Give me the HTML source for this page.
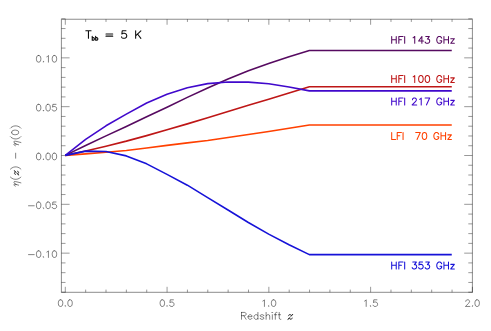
<!DOCTYPE html>
<html><head><meta charset="utf-8"><title>chart</title>
<style>
html,body{margin:0;padding:0;background:#fff;}
body{width:491px;height:331px;overflow:hidden;font-family:"Liberation Sans",sans-serif;}
svg{display:block;}
</style></head><body>
<svg width="491" height="331" viewBox="0 0 491 331">
<rect width="491" height="331" fill="#fff"/>
<rect x="61.4" y="19.25" width="411.0" height="273.05" fill="none" stroke="#000" stroke-opacity="0.45" stroke-width="1"/>
<path d="M65.30,292.3 v-5.5 M65.30,19.25 v5.5 M85.66,292.3 v-2.7 M85.66,19.25 v2.7 M106.01,292.3 v-2.7 M106.01,19.25 v2.7 M126.36,292.3 v-2.7 M126.36,19.25 v2.7 M146.72,292.3 v-2.7 M146.72,19.25 v2.7 M167.07,292.3 v-5.5 M167.07,19.25 v5.5 M187.43,292.3 v-2.7 M187.43,19.25 v2.7 M207.79,292.3 v-2.7 M207.79,19.25 v2.7 M228.14,292.3 v-2.7 M228.14,19.25 v2.7 M248.50,292.3 v-2.7 M248.50,19.25 v2.7 M268.85,292.3 v-5.5 M268.85,19.25 v5.5 M289.20,292.3 v-2.7 M289.20,19.25 v2.7 M309.56,292.3 v-2.7 M309.56,19.25 v2.7 M329.92,292.3 v-2.7 M329.92,19.25 v2.7 M350.27,292.3 v-2.7 M350.27,19.25 v2.7 M370.62,292.3 v-5.5 M370.62,19.25 v5.5 M390.98,292.3 v-2.7 M390.98,19.25 v2.7 M411.34,292.3 v-2.7 M411.34,19.25 v2.7 M431.69,292.3 v-2.7 M431.69,19.25 v2.7 M452.05,292.3 v-2.7 M452.05,19.25 v2.7 M472.40,292.3 v-5.5 M61.4,292.21 h4.1 M472.4,292.21 h-4.1 M61.4,282.44 h4.1 M472.4,282.44 h-4.1 M61.4,272.68 h4.1 M472.4,272.68 h-4.1 M61.4,262.92 h4.1 M472.4,262.92 h-4.1 M61.4,253.15 h8.2 M472.4,253.15 h-8.2 M61.4,243.38 h4.1 M472.4,243.38 h-4.1 M61.4,233.62 h4.1 M472.4,233.62 h-4.1 M61.4,223.86 h4.1 M472.4,223.86 h-4.1 M61.4,214.09 h4.1 M472.4,214.09 h-4.1 M61.4,204.32 h8.2 M472.4,204.32 h-8.2 M61.4,194.56 h4.1 M472.4,194.56 h-4.1 M61.4,184.80 h4.1 M472.4,184.80 h-4.1 M61.4,175.03 h4.1 M472.4,175.03 h-4.1 M61.4,165.26 h4.1 M472.4,165.26 h-4.1 M61.4,155.50 h8.2 M472.4,155.50 h-8.2 M61.4,145.74 h4.1 M472.4,145.74 h-4.1 M61.4,135.97 h4.1 M472.4,135.97 h-4.1 M61.4,126.20 h4.1 M472.4,126.20 h-4.1 M61.4,116.44 h4.1 M472.4,116.44 h-4.1 M61.4,106.67 h8.2 M472.4,106.67 h-8.2 M61.4,96.91 h4.1 M472.4,96.91 h-4.1 M61.4,87.14 h4.1 M472.4,87.14 h-4.1 M61.4,77.38 h4.1 M472.4,77.38 h-4.1 M61.4,67.61 h4.1 M472.4,67.61 h-4.1 M61.4,57.85 h8.2 M472.4,57.85 h-8.2 M61.4,48.08 h4.1 M472.4,48.08 h-4.1 M61.4,38.32 h4.1 M472.4,38.32 h-4.1 M61.4,28.55 h4.1 M472.4,28.55 h-4.1 M61.4,18.79 h4.1 M472.4,18.79 h-4.1" fill="none" stroke="#000" stroke-opacity="0.4" stroke-width="1"/>
<path d="M65.30,155.40 L85.64,153.85 L105.98,152.20 L126.32,150.45 L146.66,148.03 L167.00,145.41 L187.34,142.89 L207.68,140.46 L228.02,137.46 L248.36,134.45 L268.70,131.44 L289.04,128.24 L309.38,125.00 L451.76,125.00" fill="none" stroke="#FF4000" stroke-width="1.6" stroke-linejoin="round" stroke-linecap="butt"/>
<path d="M65.30,155.40 L85.64,151.03 L105.98,146.19 L126.32,141.14 L146.66,135.61 L167.00,129.79 L187.34,123.88 L207.68,117.67 L228.02,111.46 L248.36,105.35 L268.70,99.24 L289.04,93.03 L309.38,86.72 L451.76,86.72" fill="none" stroke="#BE1616" stroke-width="1.6" stroke-linejoin="round" stroke-linecap="butt"/>
<path d="M65.30,155.40 L85.64,145.51 L105.98,135.90 L126.32,126.49 L146.66,116.79 L167.00,107.19 L187.34,97.39 L207.68,87.98 L228.02,79.06 L248.36,70.82 L268.70,63.54 L289.04,56.65 L309.38,50.54 L451.76,50.54" fill="none" stroke="#560A60" stroke-width="1.6" stroke-linejoin="round" stroke-linecap="butt"/>
<path d="M65.30,155.40 L85.64,139.40 L105.98,125.81 L126.32,114.18 L146.66,103.02 L167.00,94.29 L187.34,87.69 L207.68,83.62 L228.02,81.97 L248.36,82.17 L268.70,83.81 L289.04,87.02 L309.38,90.89 L451.76,90.89" fill="none" stroke="#4008CC" stroke-width="1.6" stroke-linejoin="round" stroke-linecap="butt"/>
<path d="M65.30,155.40 L85.64,151.13 L105.98,151.52 L126.32,155.89 L146.66,163.84 L167.00,174.41 L187.34,185.18 L207.68,197.59 L228.02,210.01 L248.36,222.52 L268.70,234.16 L289.04,244.83 L309.38,254.63 L451.76,254.63" fill="none" stroke="#1612D8" stroke-width="1.6" stroke-linejoin="round" stroke-linecap="butt"/>
<path d="M60.24,299.81 L59.30,300.13 L58.66,301.08 L58.35,302.66 L58.35,303.61 L58.66,305.19 L59.30,306.13 L60.24,306.45 L60.88,306.45 L61.82,306.13 L62.46,305.19 L62.77,303.61 L62.77,302.66 L62.46,301.08 L61.82,300.13 L60.88,299.81 L60.24,299.81 M65.30,305.82 L64.98,306.13 L65.30,306.45 L65.62,306.13 L65.30,305.82 M69.72,299.81 L68.78,300.13 L68.14,301.08 L67.83,302.66 L67.83,303.61 L68.14,305.19 L68.78,306.13 L69.72,306.45 L70.36,306.45 L71.30,306.13 L71.94,305.19 L72.25,303.61 L72.25,302.66 L71.94,301.08 L71.30,300.13 L70.36,299.81 L69.72,299.81 M162.02,299.81 L161.07,300.13 L160.44,301.08 L160.12,302.66 L160.12,303.61 L160.44,305.19 L161.07,306.13 L162.02,306.45 L162.65,306.45 L163.60,306.13 L164.23,305.19 L164.55,303.61 L164.55,302.66 L164.23,301.08 L163.60,300.13 L162.65,299.81 L162.02,299.81 M167.07,305.82 L166.76,306.13 L167.07,306.45 L167.39,306.13 L167.07,305.82 M173.39,299.81 L170.23,299.81 L169.92,302.66 L170.23,302.34 L171.18,302.03 L172.13,302.03 L173.08,302.34 L173.71,302.97 L174.03,303.92 L174.03,304.55 L173.71,305.50 L173.08,306.13 L172.13,306.45 L171.18,306.45 L170.23,306.13 L169.92,305.82 L169.60,305.19 M262.85,301.08 L263.48,300.76 L264.43,299.81 L264.43,306.45 M268.85,305.82 L268.53,306.13 L268.85,306.45 L269.17,306.13 L268.85,305.82 M273.27,299.81 L272.33,300.13 L271.69,301.08 L271.38,302.66 L271.38,303.61 L271.69,305.19 L272.33,306.13 L273.27,306.45 L273.91,306.45 L274.85,306.13 L275.49,305.19 L275.80,303.61 L275.80,302.66 L275.49,301.08 L274.85,300.13 L273.91,299.81 L273.27,299.81 M364.62,301.08 L365.25,300.76 L366.20,299.81 L366.20,306.45 M370.63,305.82 L370.31,306.13 L370.63,306.45 L370.94,306.13 L370.63,305.82 M376.95,299.81 L373.79,299.81 L373.47,302.66 L373.79,302.34 L374.73,302.03 L375.68,302.03 L376.63,302.34 L377.26,302.97 L377.58,303.92 L377.58,304.55 L377.26,305.50 L376.63,306.13 L375.68,306.45 L374.73,306.45 L373.79,306.13 L373.47,305.82 L373.15,305.19 M465.76,301.39 L465.76,301.08 L466.08,300.45 L466.40,300.13 L467.03,299.81 L468.29,299.81 L468.92,300.13 L469.24,300.45 L469.56,301.08 L469.56,301.71 L469.24,302.34 L468.61,303.29 L465.45,306.45 L469.87,306.45 M472.40,305.82 L472.08,306.13 L472.40,306.45 L472.72,306.13 L472.40,305.82 M476.82,299.81 L475.88,300.13 L475.24,301.08 L474.93,302.66 L474.93,303.61 L475.24,305.19 L475.88,306.13 L476.82,306.45 L477.46,306.45 L478.40,306.13 L479.04,305.19 L479.35,303.61 L479.35,302.66 L479.04,301.08 L478.40,300.13 L477.46,299.81 L476.82,299.81 M38.32,55.51 L37.37,55.83 L36.74,56.78 L36.43,58.36 L36.43,59.31 L36.74,60.89 L37.37,61.83 L38.32,62.15 L38.95,62.15 L39.90,61.83 L40.53,60.89 L40.85,59.31 L40.85,58.36 L40.53,56.78 L39.90,55.83 L38.95,55.51 L38.32,55.51 M43.38,61.52 L43.06,61.83 L43.38,62.15 L43.69,61.83 L43.38,61.52 M46.85,56.78 L47.49,56.46 L48.43,55.51 L48.43,62.15 M54.12,55.51 L53.17,55.83 L52.54,56.78 L52.23,58.36 L52.23,59.31 L52.54,60.89 L53.17,61.83 L54.12,62.15 L54.75,62.15 L55.70,61.83 L56.33,60.89 L56.65,59.31 L56.65,58.36 L56.33,56.78 L55.70,55.83 L54.75,55.51 L54.12,55.51 M38.32,104.34 L37.37,104.66 L36.74,105.60 L36.43,107.18 L36.43,108.13 L36.74,109.71 L37.37,110.66 L38.32,110.97 L38.95,110.97 L39.90,110.66 L40.53,109.71 L40.85,108.13 L40.85,107.18 L40.53,105.60 L39.90,104.66 L38.95,104.34 L38.32,104.34 M43.38,110.34 L43.06,110.66 L43.38,110.97 L43.69,110.66 L43.38,110.34 M47.80,104.34 L46.85,104.66 L46.22,105.60 L45.91,107.18 L45.91,108.13 L46.22,109.71 L46.85,110.66 L47.80,110.97 L48.43,110.97 L49.38,110.66 L50.01,109.71 L50.33,108.13 L50.33,107.18 L50.01,105.60 L49.38,104.66 L48.43,104.34 L47.80,104.34 M56.02,104.34 L52.86,104.34 L52.54,107.18 L52.86,106.87 L53.81,106.55 L54.75,106.55 L55.70,106.87 L56.33,107.50 L56.65,108.45 L56.65,109.08 L56.33,110.03 L55.70,110.66 L54.75,110.97 L53.81,110.97 L52.86,110.66 L52.54,110.34 L52.23,109.71 M38.32,153.16 L37.37,153.48 L36.74,154.43 L36.43,156.01 L36.43,156.96 L36.74,158.54 L37.37,159.48 L38.32,159.80 L38.95,159.80 L39.90,159.48 L40.53,158.54 L40.85,156.96 L40.85,156.01 L40.53,154.43 L39.90,153.48 L38.95,153.16 L38.32,153.16 M43.38,159.17 L43.06,159.48 L43.38,159.80 L43.69,159.48 L43.38,159.17 M47.80,153.16 L46.85,153.48 L46.22,154.43 L45.91,156.01 L45.91,156.96 L46.22,158.54 L46.85,159.48 L47.80,159.80 L48.43,159.80 L49.38,159.48 L50.01,158.54 L50.33,156.96 L50.33,156.01 L50.01,154.43 L49.38,153.48 L48.43,153.16 L47.80,153.16 M54.12,153.16 L53.17,153.48 L52.54,154.43 L52.23,156.01 L52.23,156.96 L52.54,158.54 L53.17,159.48 L54.12,159.80 L54.75,159.80 L55.70,159.48 L56.33,158.54 L56.65,156.96 L56.65,156.01 L56.33,154.43 L55.70,153.48 L54.75,153.16 L54.12,153.16 M28.53,205.78 L34.21,205.78 M38.32,201.99 L37.37,202.31 L36.74,203.25 L36.43,204.83 L36.43,205.78 L36.74,207.36 L37.37,208.31 L38.32,208.62 L38.95,208.62 L39.90,208.31 L40.53,207.36 L40.85,205.78 L40.85,204.83 L40.53,203.25 L39.90,202.31 L38.95,201.99 L38.32,201.99 M43.38,207.99 L43.06,208.31 L43.38,208.62 L43.69,208.31 L43.38,207.99 M47.80,201.99 L46.85,202.31 L46.22,203.25 L45.91,204.83 L45.91,205.78 L46.22,207.36 L46.85,208.31 L47.80,208.62 L48.43,208.62 L49.38,208.31 L50.01,207.36 L50.33,205.78 L50.33,204.83 L50.01,203.25 L49.38,202.31 L48.43,201.99 L47.80,201.99 M56.02,201.99 L52.86,201.99 L52.54,204.83 L52.86,204.52 L53.81,204.20 L54.75,204.20 L55.70,204.52 L56.33,205.15 L56.65,206.10 L56.65,206.73 L56.33,207.68 L55.70,208.31 L54.75,208.62 L53.81,208.62 L52.86,208.31 L52.54,207.99 L52.23,207.36 M28.53,254.61 L34.21,254.61 M38.32,250.81 L37.37,251.13 L36.74,252.08 L36.43,253.66 L36.43,254.61 L36.74,256.19 L37.37,257.13 L38.32,257.45 L38.95,257.45 L39.90,257.13 L40.53,256.19 L40.85,254.61 L40.85,253.66 L40.53,252.08 L39.90,251.13 L38.95,250.81 L38.32,250.81 M43.38,256.82 L43.06,257.13 L43.38,257.45 L43.69,257.13 L43.38,256.82 M46.85,252.08 L47.49,251.76 L48.43,250.81 L48.43,257.45 M54.12,250.81 L53.17,251.13 L52.54,252.08 L52.23,253.66 L52.23,254.61 L52.54,256.19 L53.17,257.13 L54.12,257.45 L54.75,257.45 L55.70,257.13 L56.33,256.19 L56.65,254.61 L56.65,253.66 L56.33,252.08 L55.70,251.13 L54.75,250.81 L54.12,250.81 M241.51,312.41 L241.51,319.30 M241.51,312.41 L244.46,312.41 L245.45,312.74 L245.78,313.07 L246.10,313.72 L246.10,314.38 L245.78,315.04 L245.45,315.36 L244.46,315.69 L241.51,315.69 M243.81,315.69 L246.10,319.30 M248.07,316.68 L252.01,316.68 L252.01,316.02 L251.68,315.36 L251.35,315.04 L250.70,314.71 L249.71,314.71 L249.06,315.04 L248.40,315.69 L248.07,316.68 L248.07,317.33 L248.40,318.32 L249.06,318.97 L249.71,319.30 L250.70,319.30 L251.35,318.97 L252.01,318.32 M257.91,312.41 L257.91,319.30 M257.91,315.69 L257.26,315.04 L256.60,314.71 L255.62,314.71 L254.96,315.04 L254.30,315.69 L253.98,316.68 L253.98,317.33 L254.30,318.32 L254.96,318.97 L255.62,319.30 L256.60,319.30 L257.26,318.97 L257.91,318.32 M263.82,315.69 L263.49,315.04 L262.50,314.71 L261.52,314.71 L260.54,315.04 L260.21,315.69 L260.54,316.35 L261.19,316.68 L262.83,317.00 L263.49,317.33 L263.82,317.99 L263.82,318.32 L263.49,318.97 L262.50,319.30 L261.52,319.30 L260.54,318.97 L260.21,318.32 M266.11,312.41 L266.11,319.30 M266.11,316.02 L267.10,315.04 L267.75,314.71 L268.74,314.71 L269.39,315.04 L269.72,316.02 L269.72,319.30 M272.02,312.41 L272.34,312.74 L272.67,312.41 L272.34,312.08 L272.02,312.41 M272.34,314.71 L272.34,319.30 M276.94,312.41 L276.28,312.41 L275.62,312.74 L275.30,313.72 L275.30,319.30 M274.31,314.71 L276.61,314.71 M279.23,312.41 L279.23,317.99 L279.56,318.97 L280.22,319.30 L280.87,319.30 M278.25,314.71 L280.54,314.71 M288.45,315.86 L288.80,315.17 L289.49,314.48 L290.18,314.48 L291.21,315.17 L291.90,315.17 L292.59,314.48 M288.80,315.17 L289.49,314.82 L290.18,314.82 L291.21,315.51 L291.90,315.51 L292.59,314.48 M292.59,314.48 L291.90,315.51 L288.80,318.27 L288.11,319.30 M288.11,319.30 L288.80,318.61 L289.49,318.61 L290.52,319.30 L291.21,319.30 L291.90,318.61 L292.24,317.92 M288.11,319.30 L288.80,318.27 L289.49,318.27 L290.52,318.96 L291.21,318.96 L291.90,318.61" fill="none" stroke="#000" stroke-opacity="0.62" stroke-width="0.8" stroke-linecap="round" stroke-linejoin="round"/>
<g transform="translate(18.6,187.1) rotate(-90)"><path d="M0.98,-3.28 L1.30,-3.94 L1.95,-4.59 L2.60,-4.59 L2.93,-4.26 L2.93,-3.61 L2.60,-2.30 L1.95,0.00 M2.60,-2.30 L3.25,-3.61 L3.91,-4.26 L4.56,-4.59 L5.21,-4.59 L5.53,-4.26 L5.53,-3.28 L5.21,-1.64 L4.23,2.30 M10.09,-8.20 L9.44,-7.54 L8.79,-6.56 L8.14,-5.25 L7.81,-3.61 L7.81,-2.30 L8.14,-0.66 L8.79,0.66 L9.44,1.64 L10.09,2.30 M12.55,-2.95 L12.86,-3.54 L13.48,-4.13 L14.10,-4.13 L15.03,-3.54 L15.65,-3.54 L16.26,-4.13 M12.86,-3.54 L13.48,-3.84 L14.10,-3.84 L15.03,-3.25 L15.65,-3.25 L16.26,-4.13 M16.26,-4.13 L15.65,-3.25 L12.86,-0.89 L12.24,0.00 M12.24,0.00 L12.86,-0.59 L13.48,-0.59 L14.41,0.00 L15.03,0.00 L15.65,-0.59 L15.96,-1.18 M12.24,0.00 L12.86,-0.89 L13.48,-0.89 L14.41,-0.30 L15.03,-0.30 L15.65,-0.59 M17.90,-8.20 L18.55,-7.54 L19.20,-6.56 L19.86,-5.25 L20.18,-3.61 L20.18,-2.30 L19.86,-0.66 L19.20,0.66 L18.55,1.64 L17.90,2.30 M28.89,-2.95 h5.05 M41.34,-3.28 L41.66,-3.94 L42.32,-4.59 L42.97,-4.59 L43.29,-4.26 L43.29,-3.61 L42.97,-2.30 L42.32,0.00 M42.97,-2.30 L43.62,-3.61 L44.27,-4.26 L44.92,-4.59 L45.57,-4.59 L45.90,-4.26 L45.90,-3.28 L45.57,-1.64 L44.59,2.30 M50.45,-8.20 L49.80,-7.54 L49.15,-6.56 L48.50,-5.25 L48.17,-3.61 L48.17,-2.30 L48.50,-0.66 L49.15,0.66 L49.80,1.64 L50.45,2.30 M54.36,-6.89 L53.38,-6.56 L52.73,-5.58 L52.41,-3.94 L52.41,-2.95 L52.73,-1.31 L53.38,-0.33 L54.36,0.00 L55.01,0.00 L55.99,-0.33 L56.64,-1.31 L56.96,-2.95 L56.96,-3.94 L56.64,-5.58 L55.99,-6.56 L55.01,-6.89 L54.36,-6.89 M58.92,-8.20 L59.57,-7.54 L60.22,-6.56 L60.87,-5.25 L61.19,-3.61 L61.19,-2.30 L60.87,-0.66 L60.22,0.66 L59.57,1.64 L58.92,2.30" fill="none" stroke="#000" stroke-opacity="0.62" stroke-width="0.8" stroke-linecap="round" stroke-linejoin="round"/></g>
<path d="M88.46,30.80 L88.46,38.30 M85.85,30.80 L91.07,30.80 M92.22,36.31 L92.22,40.30 M92.22,38.21 L92.58,37.83 L92.94,37.64 L93.48,37.64 L93.84,37.83 L94.20,38.21 L94.38,38.78 L94.38,39.16 L94.20,39.73 L93.84,40.11 L93.48,40.30 L92.94,40.30 L92.58,40.11 L92.22,39.73 M95.64,36.31 L95.64,40.30 M95.64,38.21 L96.00,37.83 L96.36,37.64 L96.90,37.64 L97.26,37.83 L97.62,38.21 L97.80,38.78 L97.80,39.16 L97.62,39.73 L97.26,40.11 L96.90,40.30 L96.36,40.30 L96.00,40.11 L95.64,39.73 M106.00,34.02 L112.71,34.02 M106.00,36.16 L112.71,36.16 M125.98,30.80 L122.25,30.80 L121.87,34.02 L122.25,33.66 L123.36,33.30 L124.48,33.30 L125.60,33.66 L126.35,34.37 L126.72,35.44 L126.72,36.16 L126.35,37.23 L125.60,37.94 L124.48,38.30 L123.36,38.30 L122.25,37.94 L121.87,37.59 L121.50,36.87 M135.65,30.80 L135.65,38.30 M140.87,30.80 L135.65,35.80 M137.52,34.02 L140.87,38.30" fill="none" stroke="#000" stroke-opacity="0.95" stroke-width="1.1" stroke-linecap="round" stroke-linejoin="round"/>
<path d="M391.70,36.49 L391.70,43.30 M396.24,36.49 L396.24,43.30 M391.70,39.73 L396.24,39.73 M398.84,36.49 L398.84,43.30 M398.84,36.49 L403.06,36.49 M398.84,39.73 L401.44,39.73 M404.68,36.49 L404.68,43.30 M413.12,37.78 L413.77,37.46 L414.74,36.49 L414.74,43.30 M421.88,36.49 L418.63,41.03 L423.50,41.03 M421.88,36.49 L421.88,43.30 M425.77,36.49 L429.34,36.49 L427.40,39.08 L428.37,39.08 L429.02,39.41 L429.34,39.73 L429.67,40.70 L429.67,41.35 L429.34,42.33 L428.69,42.98 L427.72,43.30 L426.75,43.30 L425.77,42.98 L425.45,42.65 L425.12,42.00 M441.67,38.11 L441.35,37.46 L440.70,36.81 L440.05,36.49 L438.75,36.49 L438.10,36.81 L437.45,37.46 L437.13,38.11 L436.81,39.08 L436.81,40.70 L437.13,41.68 L437.45,42.33 L438.10,42.98 L438.75,43.30 L440.05,43.30 L440.70,42.98 L441.35,42.33 L441.67,41.68 L441.67,40.70 M440.05,40.70 L441.67,40.70 M443.94,36.49 L443.94,43.30 M448.49,36.49 L448.49,43.30 M443.94,39.73 L448.49,39.73 M454.33,38.76 L450.76,43.30 M450.76,38.76 L454.33,38.76 M450.76,43.30 L454.33,43.30" fill="none" stroke="#560A60" stroke-width="1.05" stroke-linecap="round" stroke-linejoin="round"/>
<path d="M391.70,75.59 L391.70,82.40 M396.24,75.59 L396.24,82.40 M391.70,78.83 L396.24,78.83 M398.84,75.59 L398.84,82.40 M398.84,75.59 L403.06,75.59 M398.84,78.83 L401.44,78.83 M404.68,75.59 L404.68,82.40 M413.12,76.88 L413.77,76.56 L414.74,75.59 L414.74,82.40 M420.58,75.59 L419.61,75.91 L418.96,76.88 L418.63,78.51 L418.63,79.48 L418.96,81.10 L419.61,82.08 L420.58,82.40 L421.23,82.40 L422.20,82.08 L422.85,81.10 L423.18,79.48 L423.18,78.51 L422.85,76.88 L422.20,75.91 L421.23,75.59 L420.58,75.59 M427.07,75.59 L426.10,75.91 L425.45,76.88 L425.12,78.51 L425.12,79.48 L425.45,81.10 L426.10,82.08 L427.07,82.40 L427.72,82.40 L428.69,82.08 L429.34,81.10 L429.67,79.48 L429.67,78.51 L429.34,76.88 L428.69,75.91 L427.72,75.59 L427.07,75.59 M441.67,77.21 L441.35,76.56 L440.70,75.91 L440.05,75.59 L438.75,75.59 L438.10,75.91 L437.45,76.56 L437.13,77.21 L436.81,78.18 L436.81,79.80 L437.13,80.78 L437.45,81.43 L438.10,82.08 L438.75,82.40 L440.05,82.40 L440.70,82.08 L441.35,81.43 L441.67,80.78 L441.67,79.80 M440.05,79.80 L441.67,79.80 M443.94,75.59 L443.94,82.40 M448.49,75.59 L448.49,82.40 M443.94,78.83 L448.49,78.83 M454.33,77.86 L450.76,82.40 M450.76,77.86 L454.33,77.86 M450.76,82.40 L454.33,82.40" fill="none" stroke="#BE1616" stroke-width="1.05" stroke-linecap="round" stroke-linejoin="round"/>
<path d="M391.70,98.09 L391.70,104.90 M396.24,98.09 L396.24,104.90 M391.70,101.33 L396.24,101.33 M398.84,98.09 L398.84,104.90 M398.84,98.09 L403.06,98.09 M398.84,101.33 L401.44,101.33 M404.68,98.09 L404.68,104.90 M412.47,99.71 L412.47,99.38 L412.79,98.73 L413.12,98.41 L413.77,98.09 L415.06,98.09 L415.71,98.41 L416.04,98.73 L416.36,99.38 L416.36,100.03 L416.04,100.68 L415.39,101.66 L412.14,104.90 L416.69,104.90 M419.61,99.38 L420.26,99.06 L421.23,98.09 L421.23,104.90 M429.67,98.09 L426.42,104.90 M425.12,98.09 L429.67,98.09 M441.67,99.71 L441.35,99.06 L440.70,98.41 L440.05,98.09 L438.75,98.09 L438.10,98.41 L437.45,99.06 L437.13,99.71 L436.81,100.68 L436.81,102.30 L437.13,103.28 L437.45,103.93 L438.10,104.58 L438.75,104.90 L440.05,104.90 L440.70,104.58 L441.35,103.93 L441.67,103.28 L441.67,102.30 M440.05,102.30 L441.67,102.30 M443.94,98.09 L443.94,104.90 M448.49,98.09 L448.49,104.90 M443.94,101.33 L448.49,101.33 M454.33,100.36 L450.76,104.90 M450.76,100.36 L454.33,100.36 M450.76,104.90 L454.33,104.90" fill="none" stroke="#4008CC" stroke-width="1.05" stroke-linecap="round" stroke-linejoin="round"/>
<path d="M391.70,132.59 L391.70,139.40 M391.70,139.40 L395.59,139.40 M397.22,132.59 L397.22,139.40 M397.22,132.59 L401.44,132.59 M397.22,135.83 L399.81,135.83 M403.06,132.59 L403.06,139.40 M420.26,132.59 L417.01,139.40 M415.71,132.59 L420.26,132.59 M424.15,132.59 L423.18,132.91 L422.53,133.88 L422.20,135.51 L422.20,136.48 L422.53,138.10 L423.18,139.08 L424.15,139.40 L424.80,139.40 L425.77,139.08 L426.42,138.10 L426.75,136.48 L426.75,135.51 L426.42,133.88 L425.77,132.91 L424.80,132.59 L424.15,132.59 M438.75,134.21 L438.43,133.56 L437.78,132.91 L437.13,132.59 L435.83,132.59 L435.18,132.91 L434.53,133.56 L434.21,134.21 L433.89,135.18 L433.89,136.80 L434.21,137.78 L434.53,138.43 L435.18,139.08 L435.83,139.40 L437.13,139.40 L437.78,139.08 L438.43,138.43 L438.75,137.78 L438.75,136.80 M437.13,136.80 L438.75,136.80 M441.02,132.59 L441.02,139.40 M445.57,132.59 L445.57,139.40 M441.02,135.83 L445.57,135.83 M451.41,134.86 L447.84,139.40 M447.84,134.86 L451.41,134.86 M447.84,139.40 L451.41,139.40" fill="none" stroke="#FF4000" stroke-width="1.05" stroke-linecap="round" stroke-linejoin="round"/>
<path d="M391.70,262.09 L391.70,268.90 M396.24,262.09 L396.24,268.90 M391.70,265.33 L396.24,265.33 M398.84,262.09 L398.84,268.90 M398.84,262.09 L403.06,262.09 M398.84,265.33 L401.44,265.33 M404.68,262.09 L404.68,268.90 M412.79,262.09 L416.36,262.09 L414.42,264.68 L415.39,264.68 L416.04,265.01 L416.36,265.33 L416.69,266.30 L416.69,266.95 L416.36,267.93 L415.71,268.58 L414.74,268.90 L413.77,268.90 L412.79,268.58 L412.47,268.25 L412.14,267.60 M422.53,262.09 L419.28,262.09 L418.96,265.01 L419.28,264.68 L420.26,264.36 L421.23,264.36 L422.20,264.68 L422.85,265.33 L423.18,266.30 L423.18,266.95 L422.85,267.93 L422.20,268.58 L421.23,268.90 L420.26,268.90 L419.28,268.58 L418.96,268.25 L418.63,267.60 M425.77,262.09 L429.34,262.09 L427.40,264.68 L428.37,264.68 L429.02,265.01 L429.34,265.33 L429.67,266.30 L429.67,266.95 L429.34,267.93 L428.69,268.58 L427.72,268.90 L426.75,268.90 L425.77,268.58 L425.45,268.25 L425.12,267.60 M441.67,263.71 L441.35,263.06 L440.70,262.41 L440.05,262.09 L438.75,262.09 L438.10,262.41 L437.45,263.06 L437.13,263.71 L436.81,264.68 L436.81,266.30 L437.13,267.28 L437.45,267.93 L438.10,268.58 L438.75,268.90 L440.05,268.90 L440.70,268.58 L441.35,267.93 L441.67,267.28 L441.67,266.30 M440.05,266.30 L441.67,266.30 M443.94,262.09 L443.94,268.90 M448.49,262.09 L448.49,268.90 M443.94,265.33 L448.49,265.33 M454.33,264.36 L450.76,268.90 M450.76,264.36 L454.33,264.36 M450.76,268.90 L454.33,268.90" fill="none" stroke="#1612D8" stroke-width="1.05" stroke-linecap="round" stroke-linejoin="round"/>
</svg>
</body></html>
